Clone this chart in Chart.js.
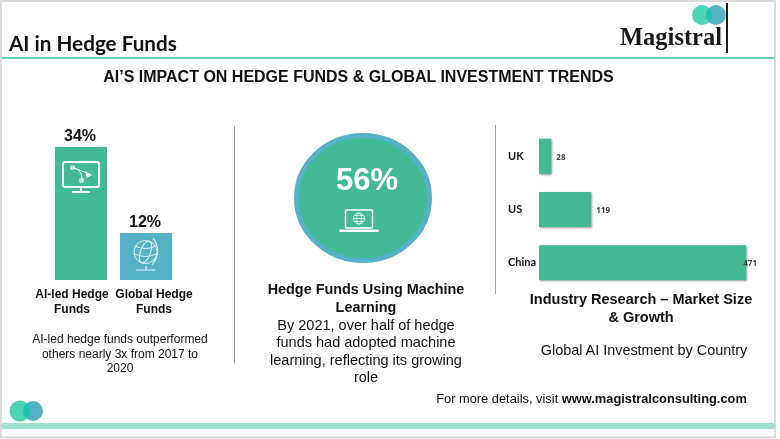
<!DOCTYPE html>
<html>
<head>
<meta charset="utf-8">
<title>AI in Hedge Funds</title>
<script src="https://cdn.jsdelivr.net/npm/chart.js@4"></script>
<style>
  html, body { margin: 0; padding: 0; background: #fff; }
  body { position: relative; width: 780px; height: 439px; overflow: hidden; font-family: "Liberation Sans", Arial, sans-serif; color: #111; }
  canvas, svg, .txt { position: absolute; }
  .txt { text-align: center; white-space: nowrap; transform: translateX(-50%); }
  .b { font-weight: bold; }
</style>
</head>
<body>
<canvas id="fundChart" width="131" height="160" style="left:48px;top:120px"></canvas>
<canvas id="countryChart" width="249" height="179" style="left:508px;top:120px"></canvas>

<!-- frame, rules, logos and icons -->
<svg width="780" height="439" style="left:0;top:0">
  <defs>
    <clipPath id="c1"><circle cx="702" cy="15" r="10"/></clipPath>
    <clipPath id="c2"><circle cx="20" cy="411" r="10.5"/></clipPath>
  </defs>
  <rect x="1" y="1" width="774" height="436.5" fill="none" stroke="#cfcfcf" stroke-width="1.5"/>
  <rect x="2" y="57" width="773" height="2" fill="#5fd3b5"/>
  <rect x="2" y="423" width="773" height="6" fill="#9de3ce"/>
  <line x1="234.5" y1="126" x2="234.5" y2="363" stroke="#a0a0a0"/>
  <line x1="495.5" y1="125" x2="495.5" y2="294" stroke="#a0a0a0"/>

  <circle cx="702" cy="15" r="10" fill="#4fd3b6"/>
  <circle cx="716" cy="15" r="10" fill="#55b2c6"/>
  <circle cx="716" cy="15" r="10" fill="#1fc4ae" clip-path="url(#c1)"/>
  <rect x="726" y="3" width="2" height="50" fill="#1a1a1a"/>
  <circle cx="20" cy="411" r="10.5" fill="#4fd3b6"/>
  <circle cx="33" cy="411" r="10" fill="#55b2c6"/>
  <circle cx="33" cy="411" r="10" fill="#1fc4ae" clip-path="url(#c2)"/>

  <ellipse cx="363" cy="198" rx="66.5" ry="62.5" fill="#43ba96" stroke="#55b2c6" stroke-width="5"/>

  <!-- monitor icon -->
  <g fill="none" stroke="#fff" stroke-width="2">
    <rect x="63" y="162" width="36" height="25" rx="2"/>
    <path d="M72 168 C80 168 82 174 82 181" stroke-width="1"/>
    <path d="M73 168 C80 170 85 172 88 174" stroke-width="1"/>
    <rect x="71" y="166" width="3" height="3" stroke-width="1"/>
    <rect x="80" y="179" width="3" height="3" stroke-width="1"/>
    <path d="M81 187 V191 M72 192 H90"/>
  </g>
  <path d="M85 171 L92 175 L87 178 Z" fill="#fff"/>

  <!-- globe icon -->
  <g fill="none" stroke="#e6f4f7" stroke-width="1">
    <circle cx="145.5" cy="252" r="11.5"/>
    <ellipse cx="145.5" cy="252" rx="5" ry="11.5" transform="rotate(20 145.5 252)"/>
    <path d="M135 246 Q146 251 156 246 M134.5 254 Q146 259 156 254"/>
    <path d="M153 238 Q163 251 152 265 M146 266 V269 M136 270 H155" stroke-width="1.2"/>
  </g>

  <!-- laptop icon -->
  <g fill="none" stroke="#fff">
    <rect x="345.5" y="210" width="27" height="18" rx="1" stroke-width="1.5"/>
    <rect x="340" y="230" width="38" height="1.5" fill="#fff" stroke-width="1"/>
    <circle cx="359" cy="218.5" r="5.5" stroke-width=".8"/>
    <ellipse cx="359" cy="218.5" rx="2.4" ry="5.5" stroke-width=".7"/>
    <path d="M353.5 218.5 H364.5 M354.5 215.5 H363.5 M354.5 221.5 H363.5" stroke-width=".7"/>
  </g>
</svg>

<div class="txt b" style="left:9px;top:31px;transform:none;font:bold 20.7px Lato,sans-serif">AI in Hedge Funds</div>
<div class="txt b" style="left:671px;top:23px;font:bold 24.5px 'Liberation Serif',serif;color:#1a1a1a">Magistral</div>
<div class="txt b" style="left:358.5px;top:68px;font-size:16px">AI’S IMPACT ON HEDGE FUNDS &amp; GLOBAL INVESTMENT TRENDS</div>

<div class="txt b" style="left:367px;top:161px;font-size:31px;line-height:37px;color:#fff">56%</div>

<div class="txt" style="left:120px;top:332px;font-size:12px;line-height:14.5px">AI-led hedge funds outperformed<br>others nearly 3x from 2017 to<br>2020</div>

<div class="txt b" style="left:366px;top:281px;font-size:14.4px;line-height:17.5px">Hedge Funds Using Machine<br>Learning</div>
<div class="txt" style="left:366px;top:317px;font-size:14.5px;line-height:17.3px">By 2021, over half of hedge<br>funds had adopted machine<br>learning, reflecting its growing<br>role</div>

<div class="txt b" style="left:641px;top:291px;font-size:14.5px;line-height:17.5px">Industry Research – Market Size<br>&amp; Growth</div>
<div class="txt" style="left:644px;top:342px;font-size:14.4px;line-height:17px">Global AI Investment by Country</div>

<div class="txt" style="left:591.5px;top:391px;font-size:12.85px;line-height:16px">For more details, visit <span class="b">www.magistralconsulting.com</span></div>

<script>
const fundLabels = ["AI-led Hedge Funds", "Global Hedge Funds"];
const fundValues = [34, 12];
const fundColors = ["#43ba96", "#55b2c6"];

const countries = ["UK", "US", "China"];
const investment = [28, 119, 471];

// --- category names under the left bars ---
const fundLabelCenters = [72, 154];
fundLabels.forEach(function(name, i) {
  const words = name.split(" ");
  const div = document.createElement("div");
  div.className = "txt b";
  div.style.cssText = "left:" + fundLabelCenters[i] + "px;top:287px;font-size:12px;line-height:15px";
  div.innerHTML = words.slice(0, 2).join(" ") + "<br>" + words.slice(2).join(" ");
  document.body.appendChild(div);
});

// --- value labels ---
const percentLabels = {
  id: "percentLabels",
  afterDatasetsDraw(chart) {
    const ctx = chart.ctx;
    ctx.save();
    ctx.font = "bold 16px 'Liberation Sans', Arial, sans-serif";
    ctx.fillStyle = "#111";
    ctx.textAlign = "center";
    ctx.textBaseline = "middle";
    chart.getDatasetMeta(0).data.forEach(function(bar, i) {
      ctx.fillText(fundValues[i] + "%", bar.x - 1, bar.y - 10);
    });
    ctx.restore();
  }
};

const countLabels = {
  id: "countLabels",
  afterDatasetsDraw(chart) {
    const ctx = chart.ctx;
    ctx.save();
    ctx.font = "bold 8px 'Open Sans', sans-serif";
    ctx.fillStyle = "#404040";
    ctx.textBaseline = "middle";
    chart.getDatasetMeta(0).data.forEach(function(bar, i) {
      const text = String(investment[i]);
      // keep the long bar's label on the canvas, it overlaps the bar end
      const x = Math.min(bar.x + 5, chart.width - ctx.measureText(text).width);
      ctx.fillText(text, x, bar.y + 1);
    });
    ctx.restore();
  }
};

const barShadow = {
  id: "barShadow",
  beforeDatasetDraw(chart) {
    const ctx = chart.ctx;
    ctx.shadowColor = "rgba(0,0,0,0.4)";
    ctx.shadowBlur = 2;
    ctx.shadowOffsetX = 1;
    ctx.shadowOffsetY = 1;
  },
  afterDatasetDraw(chart) {
    chart.ctx.shadowColor = "transparent";
  }
};

new Chart(document.getElementById("fundChart").getContext("2d"), {
  type: "bar",
  data: {
    labels: fundLabels,
    datasets: [{
      data: fundValues,
      backgroundColor: fundColors,
      barPercentage: 0.8,
      categoryPercentage: 1
    }]
  },
  options: {
    responsive: false,
    animation: false,
    layout: { padding: { top: 27, left: 0.5, right: 0.5 } },
    plugins: { legend: { display: false }, tooltip: { enabled: false } },
    scales: {
      x: { display: false },
      y: { display: false, min: 0, max: 34 }
    }
  },
  plugins: [percentLabels]
});

new Chart(document.getElementById("countryChart").getContext("2d"), {
  type: "bar",
  data: {
    labels: countries,
    datasets: [{
      data: investment,
      backgroundColor: "#43ba96",
      barPercentage: 0.66,
      categoryPercentage: 1,
      clip: false
    }]
  },
  options: {
    indexAxis: "y",
    responsive: false,
    animation: false,
    plugins: { legend: { display: false }, tooltip: { enabled: false } },
    scales: {
      x: { display: false, min: 0, max: 496 },
      y: {
        afterFit(scale) { scale.width = 31; },
        grid: { display: false },
        border: { display: false },
        ticks: {
          crossAlign: "far",
          color: "#111",
          autoSkip: false,
          font: { family: "Lato, sans-serif", size: 11, weight: "bold" }
        }
      }
    }
  },
  plugins: [barShadow, countLabels]
});
</script>
</body>
</html>
